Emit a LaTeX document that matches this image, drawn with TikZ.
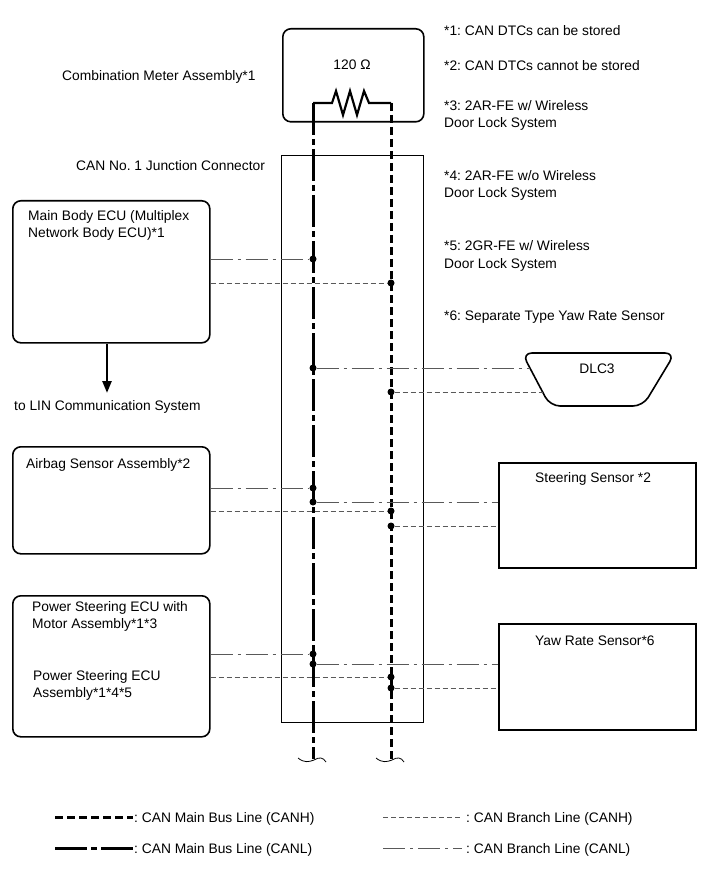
\documentclass[tikz,border=0pt]{standalone}
\usepackage{fontspec}
\setmainfont{Liberation Sans}
\frenchspacing
\usetikzlibrary{arrows.meta}
\definecolor{branchgrey}{gray}{0.35}
\tikzset{
    every node/.style={font=\fontsize{13.8}{16}\selectfont},
    txt/.style={anchor=base west,inner sep=0},
    unit/.style={draw,line width=1.6pt,rounded corners=8pt,anchor=north west,inner sep=0},
    sensor/.style={draw,line width=1.6pt,anchor=north west,inner sep=0},
    mainH/.style={line width=3pt,dash pattern=on 8pt off 4pt},
    mainL/.style={line width=3pt,dash pattern=on 32pt off 4pt on 6pt off 4pt},
    branchH/.style={branchgrey,line width=0.9pt,dash pattern=on 5pt off 3pt},
    branchL/.style={branchgrey,line width=0.9pt,dash pattern=on 22pt off 5pt on 3pt off 5pt},
    tapdot/.style={circle,fill,inner sep=0,minimum size=7pt}
}
\newcommand{\busend}[1]{
    \begin{scope}[shift={(#1)}]
        \draw[line width=0.8pt] (-15,-1) .. controls (-9,4) and (-4,3) .. (1,1) .. controls (6,-2) and (10,-2) .. (13,3);
    \end{scope}
}

\begin{document}
\begin{tikzpicture}[x=1pt,y=-1pt]
        \useasboundingbox (0,0) rectangle (713,882);

        % meter, junction connector, bus lines
        \node[unit,minimum width=141pt,minimum height=93pt] (meter) at (282,28) {};
        \node (ohm) at (352,65) {120 Ω};
        \node[sensor,line width=1.3pt,minimum width=142pt,minimum height=567pt] (jc) at (281,155) {};
        \node[txt] (meterlbl) at (62,81) {Combination Meter Assembly*1};
        \node[txt] (jclbl) at (76,171) {CAN No. 1 Junction Connector};

        \coordinate (rL) at (313,103);
        \coordinate (rH) at (391,103);
        \coordinate (eL) at (313,759);
        \coordinate (eH) at (391,759);
        \draw[line width=2.2pt,line join=miter] (rL) -- (332,103) -- (336,91) -- (343,115) -- (350,91)
            -- (357,115) -- (364,91) -- (369,103) -- (rH);
        \draw[mainL] (rL) -- (eL);
        \draw[mainH] (rH) -- (eH);
        \busend{313,759}
        \busend{391,759}

        % notes
        \node[txt] (n1) at (444,36) {*1: CAN DTCs can be stored};
        \node[txt] (n2) at (444,71) {*2: CAN DTCs cannot be stored};
        \node[txt] (n3) at (444,111) {*3: 2AR-FE w/ Wireless};
        \node[txt] (n3b) at (444,128) {Door Lock System};
        \node[txt] (n4) at (444,181) {*4: 2AR-FE w/o Wireless};
        \node[txt] (n4b) at (444,198) {Door Lock System};
        \node[txt] (n5) at (444,251) {*5: 2GR-FE w/ Wireless};
        \node[txt] (n5b) at (444,269) {Door Lock System};
        \node[txt] (n6) at (444,320) {*6: Separate Type Yaw Rate Sensor};

        % main body ECU
        \node[unit,minimum width=197pt,minimum height=142pt] (mainbody) at (12,200) {};
        \node[txt] (mainbodylbl) at (28,221) {Main Body ECU (Multiplex};
        \node[txt] (mainbodylbl2) at (28,238) {Network Body ECU)*1};
        \coordinate (lin) at (107,393);
        \draw[-{Triangle[length=12pt,width=9pt]},line width=2.5pt] (mainbody.south -| lin) -- (lin);
        \node[txt] (linlbl) at (14,410) {to LIN Communication System};
        \node[tapdot] (mbL) at (313,259) {};
        \node[tapdot] (mbH) at (391,283) {};
        \draw[branchL] (mainbody.east |- mbL) -- (mbL);
        \draw[branchH] (mainbody.east |- mbH) -- (mbH);

        % DLC3
        \draw[line width=1.6pt,rounded corners=10pt] (522,353) -- (675,353) -- (643,406)
            -- (550,406) -- cycle;
        \node (dlc) at (597,369) {DLC3};
        \coordinate (dlcL) at (530,368);
        \coordinate (dlcH) at (543,392);
        \node[tapdot] (dL) at (313,368) {};
        \node[tapdot] (dH) at (391,392) {};
        \draw[branchL] (dL) -- (dlcL);
        \draw[branchH] (dH) -- (dlcH);

        % airbag and steering sensor
        \node[unit,minimum width=197pt,minimum height=107pt] (airbag) at (12,446) {};
        \node[txt] (airbaglbl) at (26,468) {Airbag Sensor Assembly*2};
        \node[sensor,minimum width=197pt,minimum height=105pt] (steer) at (498,462) {};
        \node[txt] (steerlbl) at (535,482) {Steering Sensor *2};
        \node[tapdot] (abL) at (313,488) {};
        \node[tapdot] (stL) at (313,502) {};
        \node[tapdot] (abH) at (391,511) {};
        \node[tapdot] (stH) at (391,526) {};
        \draw[branchL] (airbag.east |- abL) -- (abL);
        \draw[branchH] (airbag.east |- abH) -- (abH);
        \draw[branchL] (stL) -- (steer.west |- stL);
        \draw[branchH] (stH) -- (steer.west |- stH);

        % power steering and yaw rate sensor
        \node[unit,minimum width=197pt,minimum height=141pt] (pwrsteer) at (12,595) {};
        \node[txt] (pslbl) at (32,611) {Power Steering ECU with};
        \node[txt] (pslbl2) at (32,628) {Motor Assembly*1*3};
        \node[txt] (pslbl3) at (33,680) {Power Steering ECU};
        \node[txt] (pslbl4) at (33,697) {Assembly*1*4*5};
        \node[sensor,minimum width=197pt,minimum height=106pt] (yaw) at (498,623) {};
        \node[txt] (yawlbl) at (535,645) {Yaw Rate Sensor*6};
        \node[tapdot] (psL) at (313,654) {};
        \node[tapdot] (ywL) at (313,664) {};
        \node[tapdot] (psH) at (391,677) {};
        \node[tapdot] (ywH) at (391,688) {};
        \draw[branchL] (pwrsteer.east |- psL) -- (psL);
        \draw[branchH] (pwrsteer.east |- psH) -- (psH);
        \draw[branchL] (ywL) -- (yaw.west |- ywL);
        \draw[branchH] (ywH) -- (yaw.west |- ywH);

        % legend
        \draw[mainH] (55,817) -- (133,817);
        \node[txt] (lgMH) at (134,822) {: CAN Main Bus Line (CANH)};
        \draw[mainL] (55,848) -- (133,848);
        \node[txt] (lgML) at (134,853) {: CAN Main Bus Line (CANL)};
        \draw[branchH] (383,817) -- (462,817);
        \node[txt] (lgBH) at (466,822) {: CAN Branch Line (CANH)};
        \draw[branchL] (383,848) -- (462,848);
        \node[txt] (lgBL) at (466,853) {: CAN Branch Line (CANL)};
    \end{tikzpicture}
\end{document}
